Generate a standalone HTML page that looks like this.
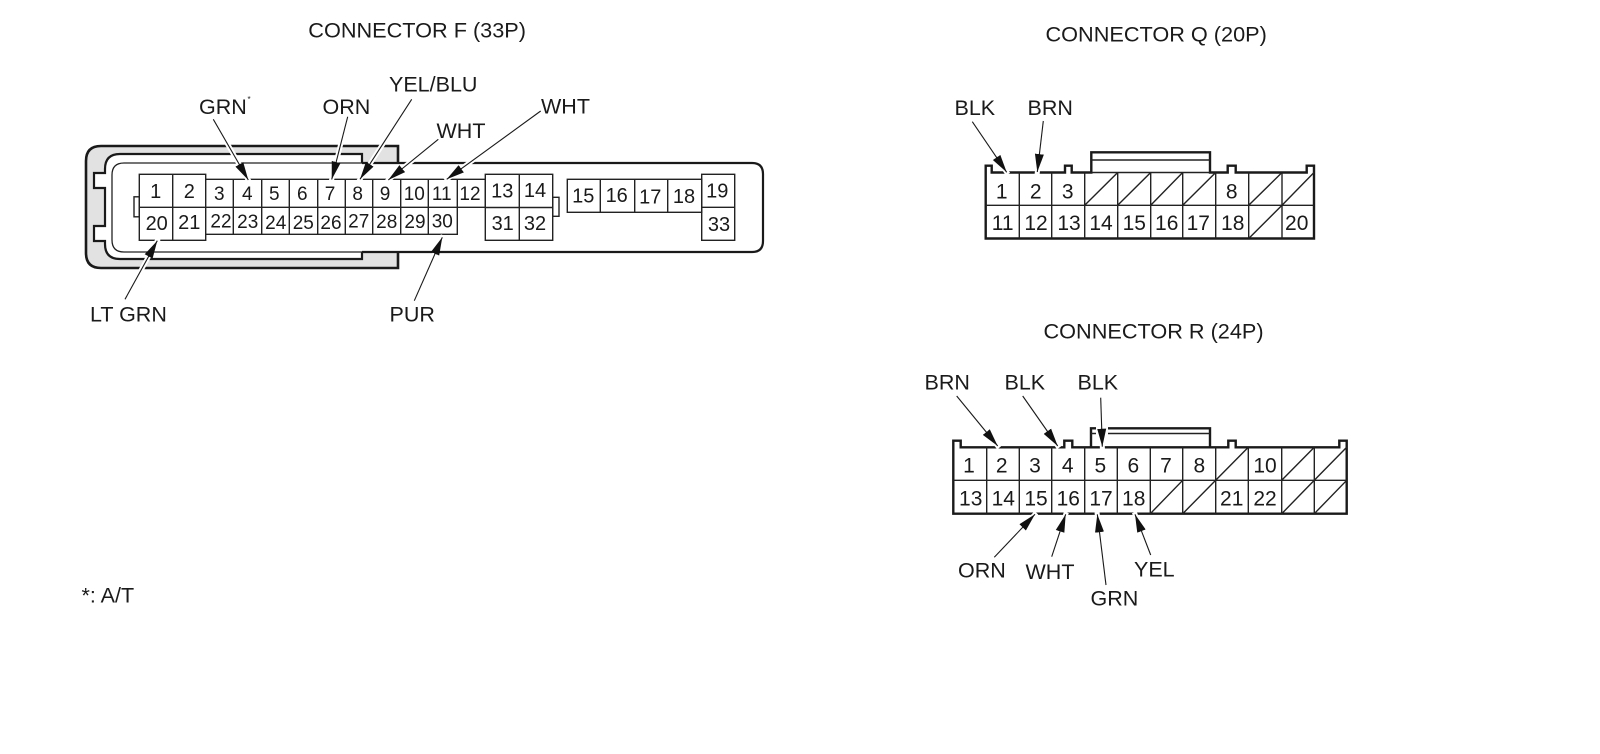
<!DOCTYPE html>
<html><head><meta charset="utf-8"><style>
html,body{margin:0;padding:0;background:#fff}
svg{display:block}
text{font-family:"Liberation Sans",sans-serif;fill:#1a1a1a}
.t{font-size:21.7px}
.l{font-size:21.5px}
.n{font-size:20px;text-anchor:middle}
.s{font-size:19px;text-anchor:middle}
.q{font-size:21px;text-anchor:middle}
.c{fill:none;stroke:#222;stroke-width:1.4}
.o{fill:none;stroke:#1a1a1a;stroke-width:2.4}
.h{stroke:#fff;stroke-width:5}
.a{stroke:#1a1a1a;stroke-width:1.1;marker-end:url(#ah)}
</style></head><body>
<svg width="1600" height="754" viewBox="0 0 1600 754" xmlns="http://www.w3.org/2000/svg">
<defs><marker id="ah" markerUnits="userSpaceOnUse" markerWidth="19" markerHeight="11" refX="18" refY="5.5" orient="auto"><path d="M0,1 L18,5.5 L0,10 Z" fill="#111"/></marker></defs>
<rect width="1600" height="754" fill="#fff"/>

<!-- Connector F shell -->
<path d="M398,146 H101 Q86,146 86,161 V253 Q86,268 101,268 H398 Z" fill="#e2e2e2" stroke="#1a1a1a" stroke-width="2.6"/>
<path d="M362,163 V154 H120 Q105,154 105,169 V173 H94 V188 H105 V226 H94 V241 H105 V244 Q105,259 120,259 H362 V252 Z" fill="#fff" stroke="none"/>
<path d="M362,163 V154 H120 Q105,154 105,169 V173 H94 V188 H105 V226 H94 V241 H105 V244 Q105,259 120,259 H362 V252" fill="none" stroke="#1a1a1a" stroke-width="2.2"/>
<path d="M361,163 H752 Q763,163 763,174 V241 Q763,252 752,252 H361 Z" fill="#fff" stroke="none"/>
<path d="M362,163 H752 Q763,163 763,174 V241 Q763,252 752,252 H362" fill="none" stroke="#1a1a1a" stroke-width="2.2"/>
<path d="M362,163 H124 Q112,163 112,175 V240 Q112,252 124,252 H362" fill="none" stroke="#222" stroke-width="1.3"/>

<!-- Connector F cells -->
<rect class="c" x="134" y="196.8" width="5.3" height="20"/>
<rect class="c" x="552.7" y="197.3" width="6.3" height="19"/>
<rect class="c" x="139.3" y="174.3" width="66.4" height="66"/>
<path class="c" d="M172.7,174.3 V240.3 M139.3,207.3 H205.7"/>
<path class="c" d="M205.7,179.3 H485.3 V207.3 H205.7 M205.7,234.3 H457.3 V207.3 M233.3,179.3 V234.3 M261.7,179.3 V234.3 M289.3,179.3 V234.3 M317.7,179.3 V234.3 M345.3,179.3 V234.3 M372.7,179.3 V234.3 M400.7,179.3 V234.3 M428.3,179.3 V234.3 M457.3,179.3 V207.3"/>
<rect class="c" x="485.3" y="174.3" width="67.4" height="66"/>
<path class="c" d="M519.3,174.3 V240.3 M485.3,207.5 H552.7"/>
<rect class="c" x="567.3" y="179.3" width="134.4" height="33"/>
<path class="c" d="M600.3,179.3 V212.3 M634.7,179.3 V212.3 M667.7,179.3 V212.3"/>
<rect class="c" x="701.7" y="174.3" width="33" height="66"/>
<path class="c" d="M701.7,207.3 H734.7"/>

<!-- Connector Q -->
<path class="o" d="M985.7,238.5 V165.7 H991.7 V172.5 H1065 V165.7 H1071.7 V172.5 H1091.3 V152.3 H1210 V172.5 H1227.7 V165.7 H1235.7 V172.5 H1306.7 V165.7 H1314 V238.5 Z"/>
<path d="M1091.3,160 H1210 M1091.3,172.5 H1210" fill="none" stroke="#222" stroke-width="1.4"/>
<path class="c" d="M985.7,205.3 H1314 M1019.3,172.5 V238.5 M1051.7,172.5 V238.5 M1084.7,172.5 V238.5 M1117.7,172.5 V238.5 M1150.7,172.5 V238.5 M1182.7,172.5 V238.5 M1215.7,172.5 V238.5 M1248.7,172.5 V238.5 M1282,172.5 V238.5"/>
<path class="c" d="M1084.7,205.3 L1117.7,172.5 M1117.7,205.3 L1150.7,172.5 M1150.7,205.3 L1182.7,172.5 M1182.7,205.3 L1215.7,172.5 M1248.7,205.3 L1282,172.5 M1282,205.3 L1314,172.5 M1248.7,238.5 L1282,205.3"/>

<!-- Connector R -->
<path class="o" d="M1346.7,513.7 H953.3 V440.7 H960.7 V447.3 H1064.3 V440.7 H1072.3 V447.3 H1228.3 V440.7 H1235.7 V447.3 H1339.3 V440.7 H1346.7 Z"/>
<path class="o" d="M1091,447.3 V428.3 H1096 M1108,428.3 H1210 V447.3"/>
<path d="M1108,433.5 H1210 M1091,433.5 H1096" fill="none" stroke="#222" stroke-width="1.4"/>
<path class="c" d="M953.3,480.3 H1346.7 M986.7,447.3 V513.7 M1019.3,447.3 V513.7 M1051.7,447.3 V513.7 M1084.7,447.3 V513.7 M1117.3,447.3 V513.7 M1150.3,447.3 V513.7 M1182.7,447.3 V513.7 M1215.7,447.3 V513.7 M1248.3,447.3 V513.7 M1281.7,447.3 V513.7 M1314.3,447.3 V513.7"/>
<path class="c" d="M1215.7,480.3 L1248.3,447.3 M1281.7,480.3 L1314.3,447.3 M1314.3,480.3 L1346.7,447.3 M1150.3,513.7 L1182.7,480.3 M1182.7,513.7 L1215.7,480.3 M1281.7,513.7 L1314.3,480.3 M1314.3,513.7 L1346.7,480.3"/>

<!-- halos -->
<g class="h">
<line x1="213.3" y1="119.3" x2="249.4" y2="182"/>
<line x1="347.7" y1="116.7" x2="331.2" y2="181.5"/>
<line x1="411.7" y1="99.3" x2="358.8" y2="181.2"/>
<line x1="438.3" y1="139.3" x2="386.8" y2="181.3"/>
<line x1="540.7" y1="111" x2="445" y2="180.5"/>
<line x1="125" y1="299.3" x2="158.4" y2="238.7"/>
<line x1="414.3" y1="300.7" x2="443.2" y2="235.3"/>
<line x1="972.3" y1="121.7" x2="1008" y2="174.2"/>
<line x1="1043.3" y1="121" x2="1037.1" y2="174.2"/>
<line x1="956.7" y1="396" x2="999.2" y2="447.8"/>
<line x1="1022.7" y1="396" x2="1059" y2="447.8"/>
<line x1="1100.7" y1="397.7" x2="1102.4" y2="448.7"/>
<line x1="994.3" y1="557.3" x2="1036.4" y2="512.8"/>
<line x1="1051.7" y1="556.7" x2="1066.4" y2="512.3"/>
<line x1="1106" y1="585" x2="1097" y2="512.3"/>
<line x1="1150.7" y1="555" x2="1134.3" y2="512.4"/>
</g>

<!-- arrows -->
<g class="a">
<line x1="213.3" y1="119.3" x2="248.3" y2="180"/>
<line x1="347.7" y1="116.7" x2="331.7" y2="179.5"/>
<line x1="411.7" y1="99.3" x2="360" y2="179.3"/>
<line x1="438.3" y1="139.3" x2="388.3" y2="180"/>
<line x1="540.7" y1="111" x2="446.7" y2="179.3"/>
<line x1="125" y1="299.3" x2="157.3" y2="240.7"/>
<line x1="414.3" y1="300.7" x2="442.3" y2="237.3"/>
<line x1="972.3" y1="121.7" x2="1006.7" y2="172.3"/>
<line x1="1043.3" y1="121" x2="1037.3" y2="172"/>
<line x1="956.7" y1="396" x2="997.7" y2="446"/>
<line x1="1022.7" y1="396" x2="1057.7" y2="446"/>
<line x1="1100.7" y1="397.7" x2="1102.3" y2="446.7"/>
<line x1="994.3" y1="557.3" x2="1035" y2="514.3"/>
<line x1="1051.7" y1="556.7" x2="1065.7" y2="514.3"/>
<line x1="1106" y1="585" x2="1097.3" y2="514.3"/>
<line x1="1150.7" y1="555" x2="1135" y2="514.3"/>
</g>

<!-- titles and labels -->
<text class="t" x="308.3" y="37.3">CONNECTOR F (33P)</text>
<text class="t" x="1045.5" y="41.7">CONNECTOR Q (20P)</text>
<text class="t" x="1043.5" y="338.3">CONNECTOR R (24P)</text>

<text class="l" x="199" y="114">GRN</text>
<text x="247.5" y="102" style="font-size:8px">*</text>
<text class="l" x="322.5" y="114">ORN</text>
<text class="l" x="389" y="91.5">YEL/BLU</text>
<text class="l" x="436.5" y="138">WHT</text>
<text class="l" x="541" y="113.5">WHT</text>
<text class="l" x="90" y="321.5">LT GRN</text>
<text class="l" x="389.5" y="321.5">PUR</text>
<text class="l" x="81.5" y="602.5">*: A/T</text>

<text class="l" x="954.5" y="115">BLK</text>
<text class="l" x="1027.5" y="115">BRN</text>
<text class="l" x="924.5" y="389.5">BRN</text>
<text class="l" x="1004.5" y="389.5">BLK</text>
<text class="l" x="1077.5" y="389.5">BLK</text>
<text class="l" x="958" y="577.5">ORN</text>
<text class="l" x="1025.5" y="579">WHT</text>
<text class="l" x="1090.5" y="605.5">GRN</text>
<text class="l" x="1134" y="576.5">YEL</text>

<!-- F numbers -->
<text class="n" x="155.7" y="198">1</text>
<text class="n" x="189.3" y="198">2</text>
<text class="s" x="219.3" y="200">3</text>
<text class="s" x="247.3" y="200">4</text>
<text class="s" x="274.3" y="200">5</text>
<text class="s" x="302.3" y="200">6</text>
<text class="s" x="330" y="200">7</text>
<text class="s" x="357.7" y="200">8</text>
<text class="s" x="385" y="200">9</text>
<text class="s" x="414.3" y="200">10</text>
<text class="s" x="441.7" y="200">11</text>
<text class="s" x="470" y="200">12</text>
<text class="n" x="502.3" y="197.7">13</text>
<text class="n" x="535" y="197">14</text>
<text class="n" x="583.3" y="202.3">15</text>
<text class="n" x="616.7" y="202">16</text>
<text class="n" x="650.3" y="203.5">17</text>
<text class="n" x="684" y="203">18</text>
<text class="n" x="717.3" y="197.3">19</text>
<text class="n" x="156.7" y="230">20</text>
<text class="n" x="189.3" y="229">21</text>
<text class="s" x="221" y="227.7">22</text>
<text class="s" x="247.7" y="228">23</text>
<text class="s" x="275.7" y="229">24</text>
<text class="s" x="303.3" y="229">25</text>
<text class="s" x="331" y="229">26</text>
<text class="s" x="358.7" y="227.7">27</text>
<text class="s" x="386.7" y="228">28</text>
<text class="s" x="415" y="228">29</text>
<text class="s" x="442.3" y="227.3">30</text>
<text class="n" x="502.7" y="230">31</text>
<text class="n" x="535" y="230">32</text>
<text class="n" x="719" y="231">33</text>

<!-- Q numbers -->
<text class="q" x="1001.7" y="198.3">1</text>
<text class="q" x="1035.7" y="198.3">2</text>
<text class="q" x="1067.7" y="198.3">3</text>
<text class="q" x="1231.7" y="198.3">8</text>
<text class="q" x="1002.7" y="230">11</text>
<text class="q" x="1036" y="230">12</text>
<text class="q" x="1069" y="230">13</text>
<text class="q" x="1101" y="230">14</text>
<text class="q" x="1134.3" y="230">15</text>
<text class="q" x="1166.7" y="230">16</text>
<text class="q" x="1198.3" y="230">17</text>
<text class="q" x="1232.7" y="230">18</text>
<text class="q" x="1296.7" y="230">20</text>

<!-- R numbers -->
<text class="q" x="969" y="472.7">1</text>
<text class="q" x="1001.7" y="472.7">2</text>
<text class="q" x="1035" y="472.7">3</text>
<text class="q" x="1067.7" y="472.7">4</text>
<text class="q" x="1100.3" y="472.7">5</text>
<text class="q" x="1133.3" y="472.7">6</text>
<text class="q" x="1166" y="472.7">7</text>
<text class="q" x="1199.3" y="472.7">8</text>
<text class="q" x="1265" y="472.7">10</text>
<text class="q" x="970.7" y="505.7">13</text>
<text class="q" x="1003.3" y="505.7">14</text>
<text class="q" x="1036" y="505.7">15</text>
<text class="q" x="1068.3" y="505.7">16</text>
<text class="q" x="1101" y="505.7">17</text>
<text class="q" x="1133.7" y="505.7">18</text>
<text class="q" x="1231.7" y="505.7">21</text>
<text class="q" x="1265" y="505.7">22</text>
</svg>
</body></html>
